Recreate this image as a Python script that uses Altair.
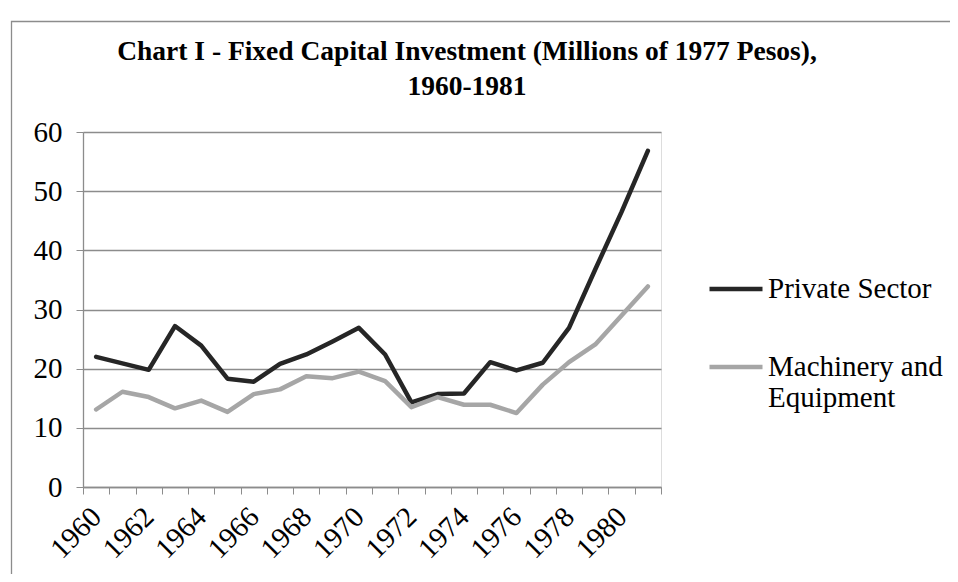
import altair as alt
import pandas as pd

years = [str(y) for y in range(1960, 1982)]
private_sector = [22.0, 20.9, 19.8, 27.2, 23.9, 18.3, 17.8, 20.8, 22.4, 24.6, 26.9,
                  22.4, 14.3, 15.7, 15.8, 21.1, 19.7, 21.0, 26.9, 36.8, 46.5, 56.8]
machinery = [13.1, 16.1, 15.2, 13.3, 14.6, 12.7, 15.7, 16.5, 18.7, 18.4, 19.5,
             17.9, 13.5, 15.2, 13.9, 13.9, 12.5, 17.3, 21.1, 24.1, 29.0, 33.9]
series_names = ["Private Sector", "Machinery and Equipment"]
series_colors = ["#262626", "#a6a6a6"]
y_ticks = [0, 10, 20, 30, 40, 50, 60]
title_lines = ["Chart I - Fixed Capital Investment (Millions of 1977 Pesos),", "1960-1981"]

rows = []
for name, vals in zip(series_names, [private_sector, machinery]):
    for yr, v in zip(years, vals):
        rows.append({"year": yr, "value": v, "series": name})
df = pd.DataFrame(rows)

FONT = "Liberation Serif"
GRAY = "#8c8c8c"
FS = 29

lines = alt.Chart(df).mark_line(strokeWidth=4.5, strokeCap="round", strokeJoin="round").encode(
    x=alt.X("year:O", bandPosition=0.5,
            scale=alt.Scale(type="band", paddingInner=0, paddingOuter=0, domain=years),
            axis=alt.Axis(title=None, tickBand="extent", grid=False, labelAngle=315,
                          labelAlign="right", labelBaseline="middle", labelPadding=18,
                          labelOffset=0, labelOverlap=False,
                          labelExpr="toNumber(datum.value) % 2 == 0 ? datum.value : ''",
                          labelFont=FONT, labelFontSize=FS, labelColor="black",
                          domainColor=GRAY, tickColor=GRAY, tickSize=7, domainWidth=1.3)),
    y=alt.Y("value:Q", scale=alt.Scale(domain=[0, 60], nice=False),
            axis=alt.Axis(title=None, values=y_ticks, grid=True, gridColor=GRAY, gridWidth=1.3,
                          domainColor=GRAY, tickColor=GRAY, tickSize=7, labelPadding=14,
                          labelFont=FONT, labelFontSize=FS, labelColor="black", domainWidth=1.3)),
    color=alt.Color("series:N", scale=alt.Scale(domain=series_names, range=series_colors),
                    legend=alt.Legend(title=None, orient="none", legendX=624, legendY=128,
                                      symbolType="stroke", symbolSize=2809, symbolStrokeWidth=4.5,
                                      labelFont=FONT, labelFontSize=FS, labelColor="black",
                                      labelOffset=3, rowPadding=34, padding=0, labelLimit=0,
                                      labelExpr="datum.label == 'Machinery and Equipment' ? ['Machinery and', 'Equipment'] : datum.label")),
    order=alt.Order("year:O"),
)

border = alt.Chart(pd.DataFrame({"a": [0]})).mark_rect(fill=None, stroke=GRAY, strokeWidth=1.3).encode(
    x=alt.value(-71.5), x2=alt.value(2000), y=alt.value(-110.5), y2=alt.value(2000)
)

chart = alt.layer(border, lines).properties(
    width=578, height=355,
    autosize=alt.AutoSizeParams(type="none"),
    padding={"left": 75, "top": 124, "right": 289, "bottom": 87},
    title=alt.TitleParams(text=title_lines, font=FONT, fontSize=27.5, fontWeight="bold",
                          anchor="middle", dx=95, offset=-80, color="black", lineHeight=35),
).configure_view(stroke=None).configure(background="white")

chart.save("out.html", embed_options={"renderer": "svg", "actions": False})
